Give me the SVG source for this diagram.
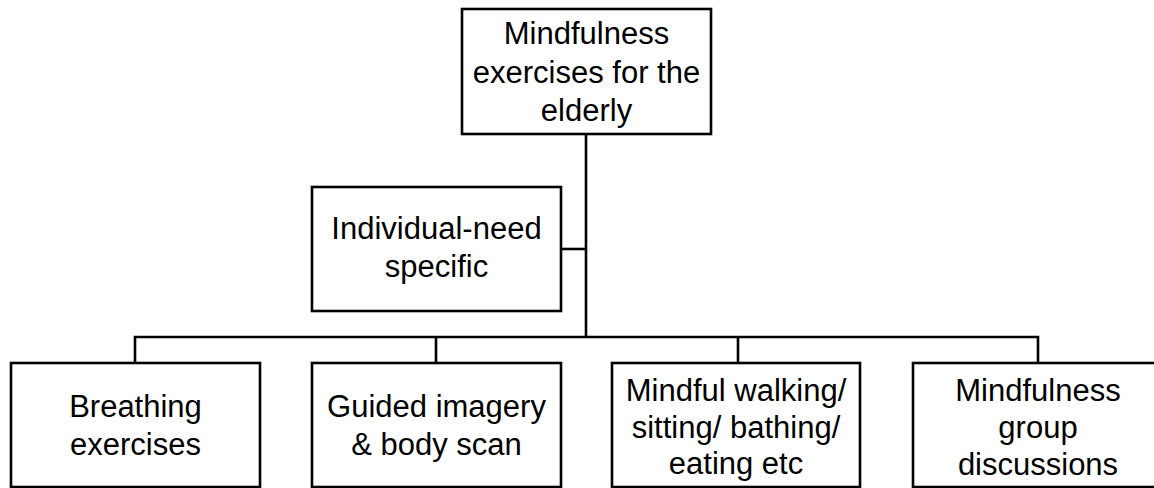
<svg xmlns="http://www.w3.org/2000/svg" width="1154" height="488" viewBox="0 0 1154 488">
<style>
.box{fill:#fff;stroke:#000;stroke-width:2.6}
.ln{fill:none;stroke:#000;stroke-width:2.6}
text{font-family:"Liberation Sans",Arial,sans-serif;font-size:31px;fill:#000;text-anchor:middle}
</style>
<rect width="1154" height="488" fill="#fff"/>
<g id="connectors">
<path class="ln" d="M586,134 V337"/>
<path class="ln" d="M561,249 H586"/>
<path class="ln" d="M135,363 V337 H1038 V363"/>
<path class="ln" d="M436,337 V363"/>
<path class="ln" d="M738,337 V363"/>
</g>
<g id="root">
<rect class="box" x="462" y="9" width="249" height="125"/>
<text x="586.5" y="44">Mindfulness</text>
<text x="586.5" y="83">exercises for the</text>
<text x="586.5" y="121">elderly</text>
</g>
<g id="individual">
<rect class="box" x="312" y="187" width="249" height="124"/>
<text x="436.5" y="239">Individual-need</text>
<text x="436.5" y="277">specific</text>
</g>
<g id="breathing">
<rect class="box" x="11" y="363" width="249" height="124"/>
<text x="135.5" y="417">Breathing</text>
<text x="135.5" y="455">exercises</text>
</g>
<g id="guided">
<rect class="box" x="312" y="363" width="249" height="124"/>
<text x="436.5" y="417">Guided imagery</text>
<text x="436.5" y="455">&amp; body scan</text>
</g>
<g id="walking">
<rect class="box" x="612" y="363" width="248" height="124"/>
<text x="736" y="401">Mindful walking/</text>
<text x="736" y="438">sitting/ bathing/</text>
<text x="736" y="474">eating etc</text>
</g>
<g id="group">
<rect class="box" x="913" y="363" width="250" height="124"/>
<text x="1038" y="401">Mindfulness</text>
<text x="1038" y="438">group</text>
<text x="1038" y="475">discussions</text>
</g>
</svg>
